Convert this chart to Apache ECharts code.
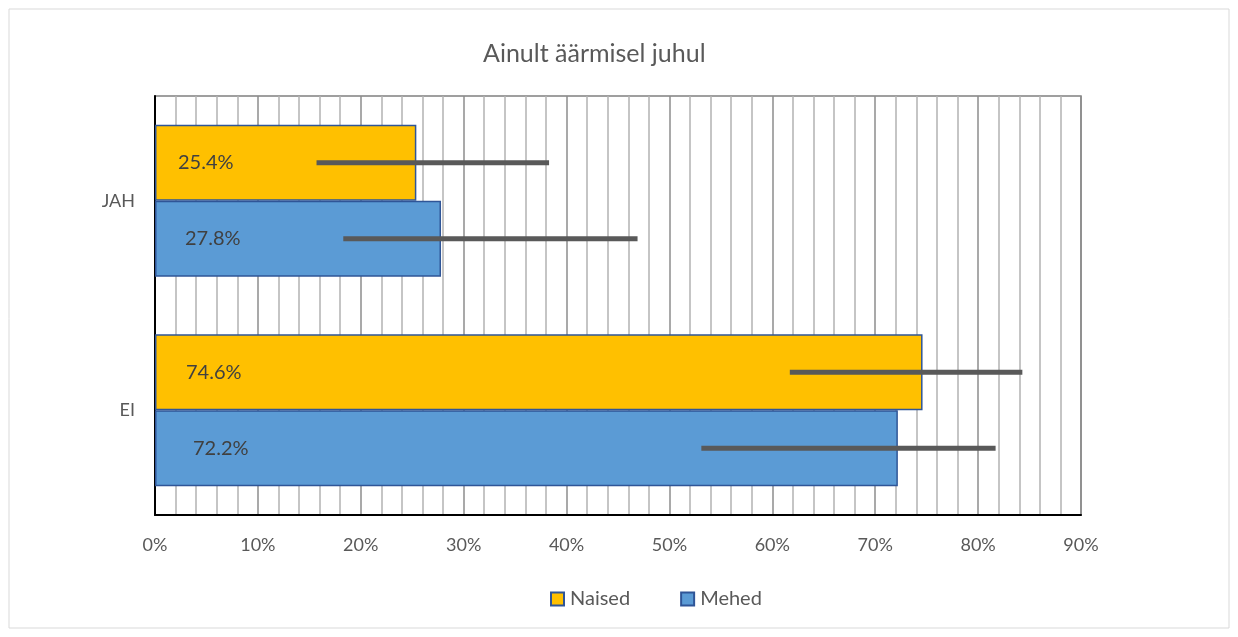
<!DOCTYPE html>
<html>
<head>
<meta charset="utf-8">
<script src="https://cdn.jsdelivr.net/npm/echarts@6/dist/echarts.min.js"></script>
<style>
  html, body { margin: 0; padding: 0; background: #fff; }
  #main { width: 1238px; height: 637px; }
</style>
</head>
<body>
<div id="main"></div>
<script>
var categories = ['JAH', 'EI'];
var naised = [25.4, 74.6];
var mehed = [27.8, 72.2];
// error bar ends (low, high) in %
var naisedLow = [15.7, 61.7];
var naisedHigh = [38.3, 84.3];
var mehedLow = [18.3, 53.1];
var mehedHigh = [46.9, 81.7];
var xTicks = [0, 10, 20, 30, 40, 50, 60, 70, 80, 90];

var font = 'Lato, "Open Sans", sans-serif';
var gapRatio = 0.275;

function errData(low, high, side) {
    var out = [];
    for (var i = 0; i < categories.length; i++) {
        out.push([low[i], high[i], i, side]);
    }
    return out;
}

function renderErr(params, api) {
    var band = api.size([0, 1])[1];
    var barW = band * (1 - gapRatio) / 2;
    var p1 = api.coord([api.value(0), api.value(2)]);
    var p2 = api.coord([api.value(1), api.value(2)]);
    // side -1 = upper bar (Naised), +1 = lower bar (Mehed)
    var y = p1[1] + api.value(3) * barW / 2;
    return {
        type: 'line',
        shape: { x1: p1[0], y1: y, x2: p2[0], y2: y },
        style: { stroke: '#595959', lineWidth: 5 }
    };
}

// label inset from the axis, per category (Excel puts them slightly differently)
function barData(values, dists) {
    return values.map(function (v, i) {
        return { value: v, label: { distance: dists[i] } };
    });
}

function labelFmt(p) { return p.value.toFixed(1) + '%'; }

var myChart = echarts.init(document.getElementById('main'));
var option = {
    backgroundColor: '#fff',
    animation: false,
    title: {
        text: 'Ainult äärmisel juhul',
        left: 478,
        top: 36,
        textStyle: { fontFamily: font, fontSize: 25, fontWeight: 'normal', color: '#595959' }
    },
    legend: {
        bottom: 23,
        left: 545,
        itemGap: 50,
        itemWidth: 13,
        itemHeight: 13,
        icon: 'rect',
        data: ['Naised', 'Mehed'],
        textStyle: { fontFamily: font, fontSize: 20, color: '#595959', padding: [0, 0, 0, 1] }
    },
    graphic: [{
        type: 'rect',
        shape: { x: 9, y: 9, width: 1220, height: 619 },
        style: { fill: 'none', stroke: '#d9d9d9', lineWidth: 1 },
        silent: true
    }],
    grid: {
        left: 155,
        right: 157,
        top: 96,
        bottom: 122,
        show: true,
        borderColor: '#808080',
        borderWidth: 1.5
    },
    xAxis: {
        type: 'value',
        min: xTicks[0],
        max: xTicks[xTicks.length - 1],
        interval: 10,
        axisLine: { show: true, lineStyle: { color: '#000', width: 2 } },
        axisTick: { show: false },
        axisLabel: {
            formatter: '{value}%',
            margin: 21,
            fontFamily: font,
            fontSize: 18,
            color: '#595959'
        },
        splitLine: { show: true, lineStyle: { color: '#8c8c8c', width: 1.5 } },
        minorTick: { show: false, splitNumber: 5 },
        minorSplitLine: { show: true, lineStyle: { color: '#b3b3b3', width: 1.5 } }
    },
    yAxis: {
        type: 'category',
        inverse: true,
        data: categories,
        axisLine: { show: true, lineStyle: { color: '#000', width: 2 } },
        axisTick: { show: false },
        axisLabel: { margin: 20, fontFamily: font, fontSize: 18, color: '#595959' }
    },
    series: [
        {
            name: 'Naised',
            type: 'bar',
            data: barData(naised, [23, 31]),
            barGap: '0%',
            barCategoryGap: '27.5%',
            itemStyle: { color: '#FFC000', borderColor: '#2F5597', borderWidth: 1.5 },
            label: {
                show: true,
                position: 'insideLeft',
                formatter: labelFmt,
                fontFamily: font,
                fontSize: 20,
                color: '#404040'
            },
            z: 2
        },
        {
            name: 'Mehed',
            type: 'bar',
            data: barData(mehed, [30, 38]),
            barGap: '0%',
            barCategoryGap: '27.5%',
            itemStyle: { color: '#5B9BD5', borderColor: '#2F5597', borderWidth: 1.5 },
            label: {
                show: true,
                position: 'insideLeft',
                formatter: labelFmt,
                fontFamily: font,
                fontSize: 20,
                color: '#404040'
            },
            z: 2
        },
        {
            type: 'custom',
            renderItem: renderErr,
            encode: { x: [0, 1], y: 2 },
            data: errData(naisedLow, naisedHigh, -1),
            z: 5,
            silent: true
        },
        {
            type: 'custom',
            renderItem: renderErr,
            encode: { x: [0, 1], y: 2 },
            data: errData(mehedLow, mehedHigh, 1),
            z: 5,
            silent: true
        }
    ]
};
myChart.setOption(option);
</script>
</body>
</html>
